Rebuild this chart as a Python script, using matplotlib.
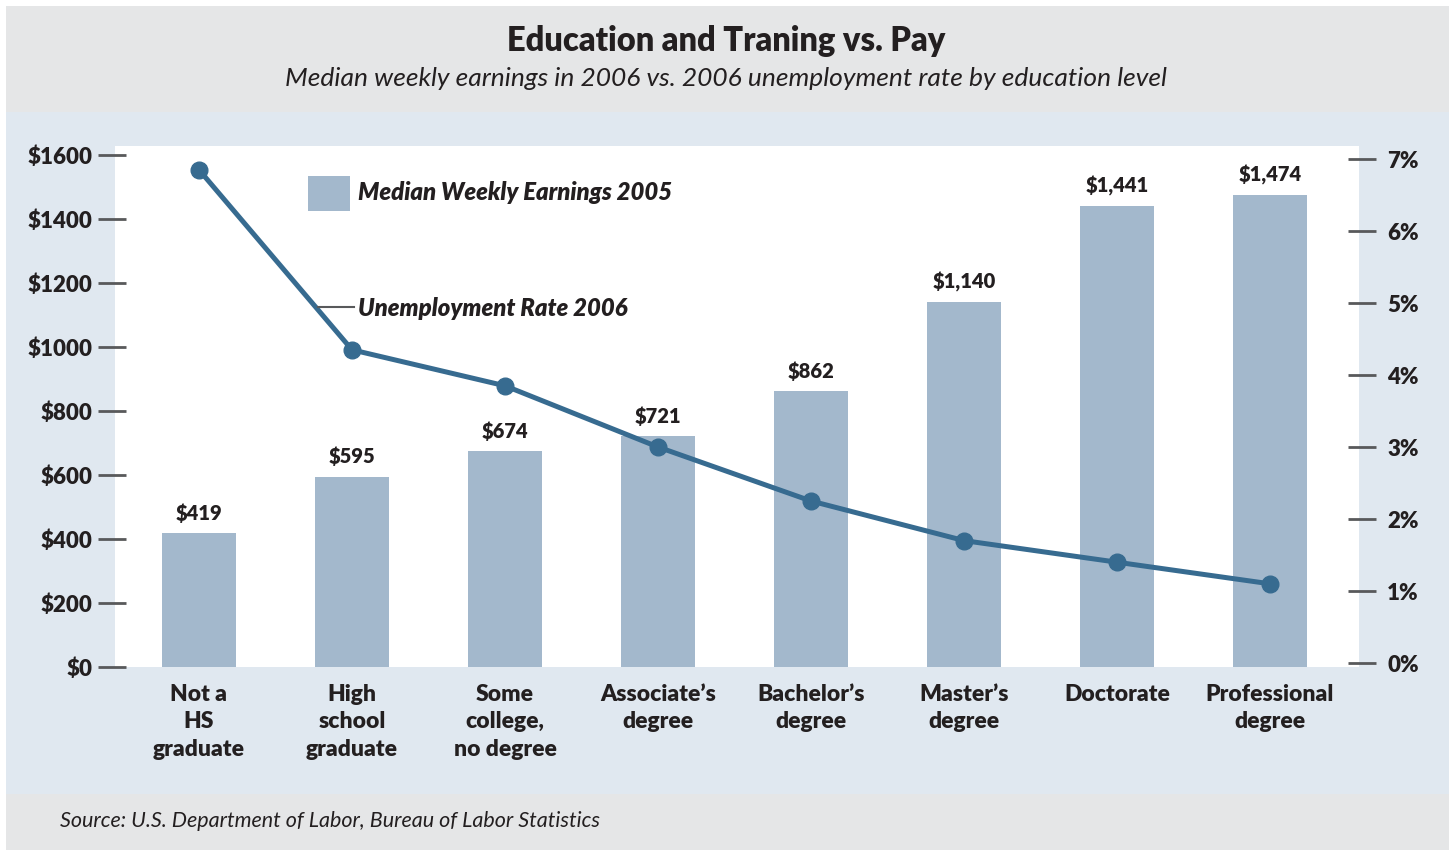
import matplotlib
matplotlib.use("Agg")
import matplotlib.pyplot as plt
from matplotlib.patches import Rectangle
from matplotlib.lines import Line2D

categories = ["Not a\nHS\ngraduate", "High\nschool\ngraduate", "Some\ncollege,\nno degree",
              "Associate\u2019s\ndegree", "Bachelor\u2019s\ndegree", "Master\u2019s\ndegree",
              "Doctorate", "Professional\ndegree"]
earnings = [419, 595, 674, 721, 862, 1140, 1441, 1474]
earning_labels = ["$419", "$595", "$674", "$721", "$862", "$1,140", "$1,441", "$1,474"]
unemployment = [6.85, 4.35, 3.85, 3.0, 2.25, 1.7, 1.4, 1.1]
left_ticks = [0, 200, 400, 600, 800, 1000, 1200, 1400, 1600]
left_ticklabels = ["$0", "$200", "$400", "$600", "$800", "$1000", "$1200", "$1400", "$1600"]
right_ticks = [0, 1, 2, 3, 4, 5, 6, 7]
right_ticklabels = ["0%", "1%", "2%", "3%", "4%", "5%", "6%", "7%"]

W, H = 1449, 850
FONT = ["Lato", "DejaVu Sans"]
plt.rcParams["font.family"] = FONT

BAR_C = "#a3b8cc"
LINE_C = "#376b90"
GRAY_BG = "#e5e6e7"
BLUE_BG = "#e0e8f0"
TEXT_C = "#231f20"
TICK_C = "#58595b"
HEAVY = 800

fig = plt.figure(figsize=(W / 100, H / 100), dpi=100)
fig.patch.set_facecolor("white")

def fx(px):
    return px / W

def fy(py):
    return 1 - py / H

# background panels
fig.patches.append(Rectangle((fx(6), 0), fx(W - 6), fy(6), transform=fig.transFigure,
                             facecolor=GRAY_BG, edgecolor="none", zorder=-3))
fig.patches.append(Rectangle((fx(6), fy(794)), fx(W - 6), fy(112) - fy(794), transform=fig.transFigure,
                             facecolor=BLUE_BG, edgecolor="none", zorder=-2))
fig.patches.append(Rectangle((fx(115), fy(667)), fx(1359 - 115), fy(146) - fy(667), transform=fig.transFigure,
                             facecolor="white", edgecolor="none", zorder=-1))

# axes
ax_l, ax_r, ax_t, ax_b = 98, 1376, 146, 667
ax = fig.add_axes([fx(ax_l), fy(ax_b), fx(ax_r - ax_l), fy(ax_t) - fy(ax_b)])
ax.set_facecolor("none")
for s in ax.spines.values():
    s.set_visible(False)

x0, step = 199, 153
ax.set_xlim((ax_l - x0) / step, (ax_r - x0) / step)
ax.set_ylim(0, (ax_b - ax_t) / 0.32)

xs = list(range(len(categories)))
ax.bar(xs, earnings, width=0.485, color=BAR_C, zorder=2)
for x, v, lab in zip(xs, earnings, earning_labels):
    ax.annotate(lab, (x, v), xytext=(0, 20 * 0.72), textcoords="offset points",
                ha="center", va="center", fontsize=14.5, fontweight=HEAVY, color=TEXT_C)

ax.set_yticks(left_ticks)
ax.set_yticklabels(left_ticklabels)
ax.tick_params(axis="y", direction="in", length=28 * 0.72, width=2, color=TICK_C,
               labelsize=16, pad=4, labelcolor=TEXT_C)
for t in ax.get_yticklabels():
    t.set_fontweight(HEAVY)
ax.set_xticks(xs)
ax.set_xticklabels(categories)
ax.tick_params(axis="x", length=0, pad=12, labelsize=16.5, labelcolor=TEXT_C)
for t in ax.get_xticklabels():
    t.set_fontweight(HEAVY)
    t.set_linespacing(1.38)
    t.set_verticalalignment("top")

ax2 = ax.twinx()
ax2.set_facecolor("none")
for s in ax2.spines.values():
    s.set_visible(False)
ax2.set_ylim(-(667 - 663) / 72, (663 - 146) / 72)
ax2.plot(xs, unemployment, color=LINE_C, lw=3.6, marker="o", markersize=12, zorder=3)
ax2.set_yticks(right_ticks)
ax2.set_yticklabels(right_ticklabels)
ax2.tick_params(axis="y", direction="in", length=28 * 0.72, width=2, color=TICK_C,
                labelsize=16, pad=8, labelcolor=TEXT_C)
for t in ax2.get_yticklabels():
    t.set_fontweight(HEAVY)

# legend-like annotations
fig.patches.append(Rectangle((fx(308), fy(211)), fx(42), fy(176) - fy(211), transform=fig.transFigure,
                             facecolor=BAR_C, edgecolor="none", zorder=3))
fig.text(fx(358), fy(192), "Median Weekly Earnings 2005", ha="left", va="center",
         fontsize=17.2, fontweight=HEAVY, fontstyle="italic", color=TEXT_C)
fig.lines.append(Line2D([fx(318), fx(354)], [fy(307), fy(307)], transform=fig.transFigure,
                        color=TICK_C, lw=1.5))
fig.text(fx(358), fy(309), "Unemployment Rate 2006", ha="left", va="center",
         fontsize=17.2, fontweight=HEAVY, fontstyle="italic", color=TEXT_C)

# titles
fig.text(fx(726), fy(41), "Education and Traning vs. Pay", ha="center", va="center",
         fontsize=23.5, fontweight=HEAVY, color=TEXT_C)
fig.text(fx(726), fy(79), "Median weekly earnings in 2006 vs. 2006 unemployment rate by education level",
         ha="center", va="center", fontsize=19, fontstyle="italic", color=TEXT_C)
fig.text(fx(60), fy(821), "Source: U.S. Department of Labor, Bureau of Labor Statistics",
         ha="left", va="center", fontsize=15.5, fontstyle="italic", color=TEXT_C)

fig.savefig("out.png", dpi=100, facecolor=fig.get_facecolor())
